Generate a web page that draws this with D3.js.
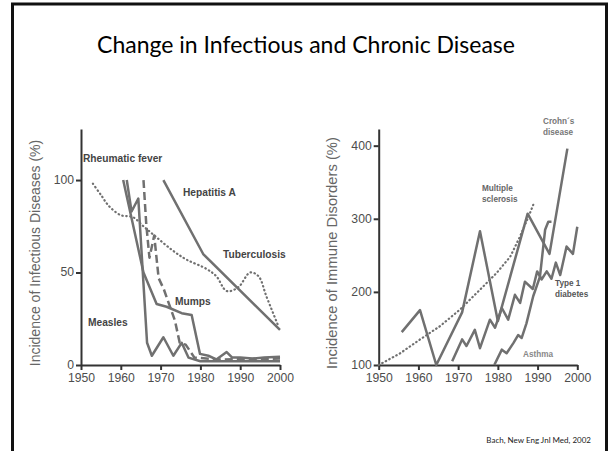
<!DOCTYPE html>
<html>
<head>
<meta charset="utf-8">
<script src="https://cdn.jsdelivr.net/npm/d3@7"></script>
<style>
  body { margin: 0; background: #fff; }
  svg { display: block; }
  .axis path, .axis line { stroke: #333; stroke-width: 2; }
  .axis text { fill: #4d4d4d; font-family: "Liberation Sans", Arial, sans-serif; font-size: 12.2px; }
  .series { fill: none; stroke: #707070; stroke-width: 2.5; stroke-linejoin: round; }
  .lbl { fill: #444; font-family: "Liberation Sans", Arial, sans-serif; font-weight: bold; }
</style>
</head>
<body>
<script>
// left panel: infectious diseases (% of peak)
var tuberculosis = [[1953,98],[1955,92],[1957,86],[1960,81],[1963,80],[1965.7,75],[1969,69],[1973,62],[1976.5,57],[1981.5,52],[1984,48],[1986.6,40],[1989.5,42],[1992.5,50],[1994.6,48],[1996.6,37],[1999.6,21]];
var hepatitisA = [[1970.7,100],[1980.7,60],[2000,19]];
var rheumaticFever = [[1960.6,100],[1965.7,50],[1969,33],[1971.5,31.5],[1975.3,28],[1977.8,27],[1979.9,6],[1982,5],[1984,3],[1986.6,7],[1988,4],[1990,4],[1993,3.5],[1996,4],[2000,4.5]];
var measles = [[1961.5,100],[1962.7,83],[1964.4,90],[1966.6,12],[1967.8,5],[1970.7,15],[1973.2,5],[1975.3,12],[1977,4],[1980,2],[1990,2],[2000,2]];
var mumps = [[1965.7,100],[1966.4,76],[1967.2,58],[1968.4,70],[1969.5,47],[1970.8,41],[1973.6,24],[1974.8,12],[1976.3,11],[1978.5,4],[1985,3],[2000,3.5]];

// right panel: immune disorders
var multipleSclerosis = [[1950,100],[1955.4,116],[1960.4,135],[1965.4,153],[1970.5,176],[1975.5,203],[1979.7,226],[1983.1,248],[1985.6,276],[1988.1,308],[1988.9,319]];
var crohns = [[1955.8,145],[1960.4,175],[1964.5,100],[1971,172],[1975.5,283],[1980,160],[1987.5,307],[1993,252],[1997.5,396]];
var diabetes = [[1968.5,105],[1971,135],[1972.1,126],[1974.2,148],[1975.5,123],[1978,162],[1979.3,151],[1981,178],[1982.6,162],[1984.3,196],[1985.6,185],[1986.8,214],[1988.8,204],[1989.9,228],[1991,217],[1992.3,228],[1993.5,218],[1994.6,240],[1995.7,223],[1997.3,262],[1998.9,252],[2000,289]];
var asthma = [[1979.1,100],[1981,121],[1982.2,116],[1983.9,130],[1985.1,141],[1986,137],[1987.2,157],[1988.9,194],[1990.6,221],[1991.9,285],[1992.7,296],[1993.5,296]];

var yearTicks = [1950, 1960, 1970, 1980, 1990, 2000];
var leftTicks = [0, 50, 100];
var rightTicks = [100, 200, 300, 400];

var svg = d3.select('body').append('svg')
    .attr('width', 613)
    .attr('height', 451);

// slide frame
svg.append('path')
    .attr('d', 'M12.5,451V4H606.5V451')
    .attr('fill', 'none')
    .attr('stroke', '#111')
    .attr('stroke-width', 3);

svg.append('text')
    .attr('x', 306).attr('y', 53)
    .attr('text-anchor', 'middle')
    .style('font-family', 'Lato, "Open Sans", sans-serif')
    .style('font-size', '23px')
    .style('fill', '#000')
    .text('Change in Infectious and Chronic Disease');

svg.append('text')
    .attr('x', 591).attr('y', 443)
    .attr('text-anchor', 'end')
    .style('font-family', 'Lato, "Open Sans", sans-serif')
    .style('font-size', '8px')
    .style('fill', '#222')
    .text('Bach, New Eng Jnl Med, 2002');

function panel(opts) {
    var x = d3.scaleLinear().domain([1950, 2000]).range([opts.left, opts.right]);
    var y = d3.scaleLinear().domain(opts.yDomain).range([365, 129]);

    var line = d3.line()
        .x(function(d) { return x(d[0]); })
        .y(function(d) { return y(d[1]); });

    var g = svg.append('g');

    g.append('g')
        .attr('class', 'x axis')
        .attr('transform', 'translate(0,' + 365 + ')')
        .call(d3.axisBottom(x).tickValues(yearTicks).tickFormat(d3.format('d')).tickSize(5).tickSizeOuter(0).tickPadding(3.5));

    var yAxis = g.append('g')
        .attr('class', 'y axis')
        .attr('transform', 'translate(' + opts.left + ',0)')
        .call(d3.axisLeft(y).tickValues(opts.yTicks).tickSize(5).tickSizeOuter(0).tickPadding(2));
    // lift the bottom tick label a touch so it clears the year labels
    yAxis.selectAll('.tick text').attr('dy', '0.28em');

    g.append('text')
        .attr('transform', 'translate(' + opts.labelX + ',253) rotate(-90)')
        .attr('text-anchor', 'middle')
        .style('font-family', '"Liberation Sans", Arial, sans-serif')
        .style('font-size', opts.labelSize + 'px')
        .style('fill', '#666')
        .text(opts.yLabel);

    opts.series.forEach(function(s) {
        var p = g.append('path')
            .attr('class', 'series')
            .attr('d', (s.curve ? line.curve(d3.curveCatmullRom) : line.curve(d3.curveLinear))(s.data));
        if (s.dash) p.attr('stroke-dasharray', s.dash).attr('stroke-linecap', s.cap || 'butt');
        if (s.width) p.style('stroke-width', s.width);
    });

    opts.labels.forEach(function(l) {
        var t = g.append('text')
            .attr('class', 'lbl')
            .attr('x', l.x).attr('y', l.y)
            .style('font-size', l.size + 'px')
            .style('fill', l.color || '#444');
        l.text.forEach(function(line, i) {
            t.append('tspan').attr('x', l.x).attr('dy', i ? l.size * 1.3 : 0).text(line);
        });
    });
}

panel({
    left: 81, right: 280,
    yDomain: [0, 127.6],
    yTicks: leftTicks,
    labelX: 40,
    labelSize: 14,
    yLabel: 'Incidence of Infectious Diseases (%)',
    series: [
        {data: tuberculosis, dash: '0.5,3.5', cap: 'round', curve: true, width: 2.2},
        {data: hepatitisA},
        {data: rheumaticFever},
        {data: measles},
        {data: mumps, dash: '8,4'}
    ],
    labels: [
        {x: 83, y: 162, size: 10.2, text: ['Rheumatic fever']},
        {x: 183, y: 196, size: 10.2, text: ['Hepatitis A']},
        {x: 223, y: 258, size: 10.2, text: ['Tuberculosis']},
        {x: 175, y: 305, size: 10.2, text: ['Mumps']},
        {x: 88, y: 326, size: 10.2, text: ['Measles']}
    ]
});

panel({
    left: 378.7, right: 577.3,
    yDomain: [100, 422.8],
    yTicks: rightTicks,
    labelX: 337,
    labelSize: 14.8,
    yLabel: 'Incidence of Immune Disorders (%)',
    series: [
        {data: multipleSclerosis, dash: '0.5,3.5', cap: 'round', width: 2.2},
        {data: crohns},
        {data: diabetes},
        {data: asthma}
    ],
    labels: [
        {x: 543, y: 124, size: 8.2, color: '#777', text: ['Crohn\u00b4s', 'disease']},
        {x: 482, y: 191, size: 8.2, color: '#666', text: ['Multiple', 'sclerosis']},
        {x: 555, y: 286, size: 8.2, color: '#555', text: ['Type 1', 'diabetes']},
        {x: 523, y: 357, size: 8.2, color: '#888', text: ['Asthma']}
    ]
});
</script>
</body>
</html>
